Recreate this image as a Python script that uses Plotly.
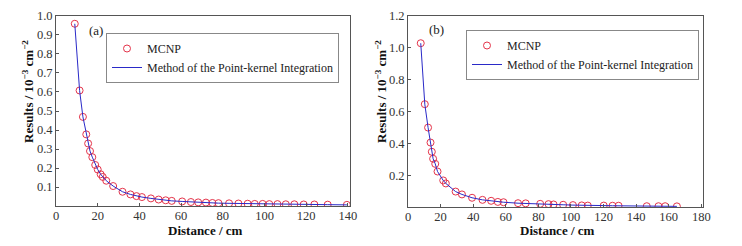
import plotly.graph_objects as go

# Panel (a)
xa = [9.0, 11.3, 12.9, 14.5, 15.4, 16.3, 17.4, 18.8, 20.0, 21.4, 22.4, 24.1, 27.4, 31.9, 35.7, 38.6,
      41.2, 45.5, 49.2, 52.6, 55.5, 60.5, 64.7, 68.2, 71.9, 75.0, 77.9, 83.0, 87.5, 91.9, 95.3, 99.1,
      102.3, 106.2, 110.2, 114.3, 118.8, 123.9, 130.3, 139.5]
ya = [0.959, 0.608, 0.469, 0.377, 0.329, 0.289, 0.257, 0.216, 0.192, 0.167, 0.153, 0.133, 0.105,
      0.075, 0.061, 0.052, 0.047, 0.040, 0.034, 0.030, 0.027, 0.024, 0.021, 0.019, 0.018, 0.016,
      0.015, 0.014, 0.013, 0.012, 0.011, 0.011, 0.010, 0.010, 0.009, 0.009, 0.008, 0.008, 0.007, 0.006]

# Panel (b)
xb = [7.8, 10.3, 12.3, 13.8, 14.6, 15.4, 16.7, 18.1, 21.6, 23.2, 29.2, 33.1, 39.3, 45.7, 51.0, 55.1,
      58.6, 67.5, 72.2, 81.1, 86.2, 89.3, 95.2, 101.2, 106.6, 110.3, 120.1, 125.5, 129.2, 146.5,
      153.7, 157.8, 165.0]
yb = [1.029, 0.646, 0.499, 0.405, 0.347, 0.303, 0.271, 0.223, 0.167, 0.148, 0.097, 0.079, 0.058,
      0.045, 0.039, 0.032, 0.030, 0.024, 0.023, 0.020, 0.018, 0.016, 0.014, 0.012, 0.010, 0.009,
      0.009, 0.008, 0.008, 0.005, 0.005, 0.005, 0.004]

ticks_a = [0.1, 0.2, 0.3, 0.4, 0.5, 0.6, 0.7, 0.8, 0.9, 1.0]
ticktext_a = ["0.1", "0.2", "0.3", "0.4", "0.5", "0.6", "0.7", "0.8", "0.9", "1.0"]
ticks_b = [0.2, 0.4, 0.6, 0.8, 1.0, 1.2]
ticktext_b = ["0.2", "0.4", "0.6", "0.8", "1.0", "1.2"]

FONT = "Liberation Serif"
RED = "#e4344a"
BLUE = "#2a2ac8"

fig = go.Figure()
for x, y, xa_, ya_, lg in [(xa, ya, "x", "y", "legend"), (xb, yb, "x2", "y2", "legend2")]:
    fig.add_trace(go.Scatter(x=x, y=y, mode="markers", name="MCNP", xaxis=xa_, yaxis=ya_,
                             marker=dict(symbol="circle-open", size=7, color=RED, line=dict(width=1)),
                             showlegend=True, legend=lg))
    fig.add_trace(go.Scatter(x=x, y=y, mode="lines", name="Method of the Point-kernel Integration",
                             xaxis=xa_, yaxis=ya_, line=dict(color=BLUE, width=1),
                             showlegend=True, legend=lg))

axis_common = dict(showline=True, mirror=True, linecolor="#555555", linewidth=1, ticks="inside",
                   ticklen=3, tickcolor="#555555", showgrid=False, zeroline=False, automargin=False,
                   tickfont=dict(family=FONT, size=12.5, color="#333333"))
xaxis_extra = dict(ticklabelstandoff=-2)

legend_common = dict(xanchor="left", yanchor="top", bordercolor="#888888", borderwidth=1,
                     bgcolor="white", font=dict(family=FONT, size=12, color="#222222"),
                     tracegroupgap=0, itemwidth=30)

fig.update_layout(
    width=742, height=246, margin=dict(l=0, r=0, t=0, b=0, autoexpand=False),
    paper_bgcolor="white", plot_bgcolor="white",
    font=dict(family=FONT, size=12, color="#222222"),
    xaxis=dict(domain=[0.0755, 0.4717], range=[0, 141], dtick=20, anchor="y",
               **axis_common, **xaxis_extra),
    yaxis=dict(domain=[0.1626, 0.935], range=[0, 1.0], tickvals=ticks_a, ticktext=ticktext_a,
               anchor="x", **axis_common),
    xaxis2=dict(domain=[0.5499, 0.9474], range=[0, 181], dtick=20, anchor="y2",
                **axis_common, **xaxis_extra),
    yaxis2=dict(domain=[0.1585, 0.935], range=[0, 1.2], tickvals=ticks_b, ticktext=ticktext_b,
                anchor="x2", **axis_common),
    legend=dict(x=106 / 742, y=1 - 33 / 246, **legend_common),
    legend2=dict(x=466 / 742, y=1 - 30 / 246, **legend_common),
    showlegend=True,
)

ytitle = "<b>Results / 10<sup>−3</sup> cm<sup>−2</sup></b>"
tfont = dict(family=FONT, size=13, color="#111111")
common_ann = dict(xref="paper", yref="paper", showarrow=False, xanchor="center", yanchor="middle")
annotations = [
    dict(text=ytitle, x=28 / 742, y=1 - 92 / 246, textangle=-90, font=tfont, **common_ann),
    dict(text=ytitle, x=381 / 742, y=1 - 92 / 246, textangle=-90, font=tfont, **common_ann),
    dict(text="<b>Distance / cm</b>", x=205.5 / 742, y=1 - 230.5 / 246, font=tfont, **common_ann),
    dict(text="<b>Distance / cm</b>", x=557 / 742, y=1 - 230.5 / 246, font=tfont, **common_ann),
    dict(text="(a)", x=96 / 742, y=1 - 30 / 246,
         font=dict(family=FONT, size=13, color="#222222"), **common_ann),
    dict(text="(b)", x=436 / 742, y=1 - 29 / 246,
         font=dict(family=FONT, size=13, color="#222222"), **common_ann),
]
fig.update_layout(annotations=annotations)

fig.write_html("out.html", config={"displayModeBar": False},
               post_script="document.body.style.margin='0';document.body.style.padding='0';")
